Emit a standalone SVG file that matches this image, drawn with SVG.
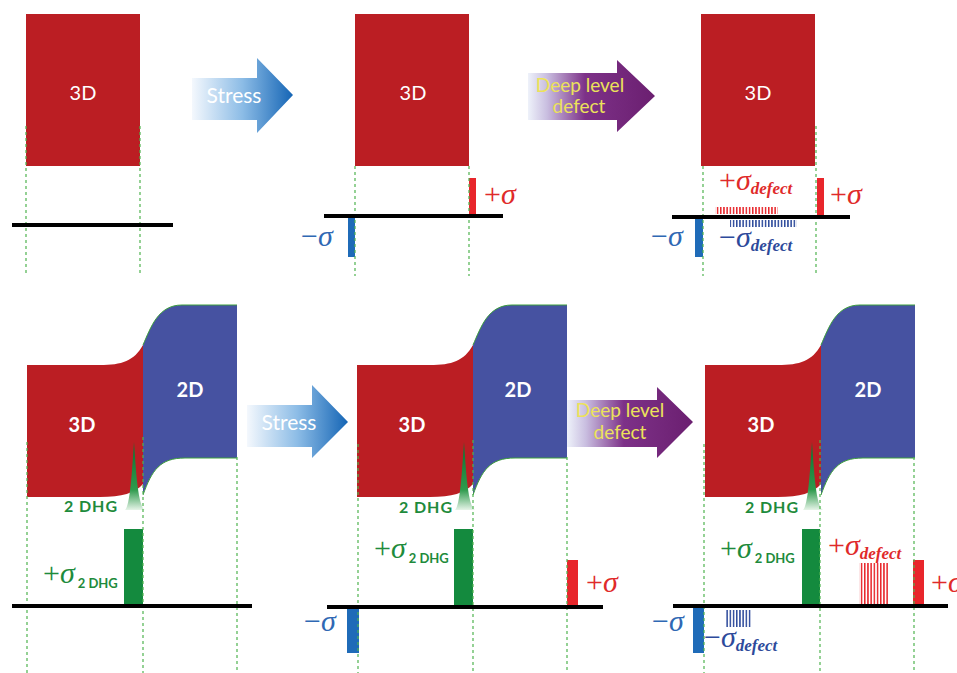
<svg xmlns="http://www.w3.org/2000/svg" xmlns:xlink="http://www.w3.org/1999/xlink" width="957" height="673" viewBox="0 0 957 673">
<style>
.sans{font-family:Lato,"Open Sans","Liberation Sans",sans-serif}
.lbl{fill:#fff;font-size:20px;text-anchor:middle}
.lblb{fill:#fff;font-size:20px;font-weight:bold;text-anchor:middle}
.dhg{fill:#1e8b3c;font-size:16px;font-weight:bold}
.dhgs{font-family:Lato,"Open Sans","Liberation Sans",sans-serif;font-size:13px;font-weight:bold;font-style:normal}
.sym{font-family:"Liberation Serif","DejaVu Serif",serif;font-size:30px}
.it{font-style:italic}
.sub{font-size:17px;font-weight:bold;font-style:italic}
.red{fill:#e02a2a}
.blue{fill:#2f68b4}
.dblue{fill:#2d4a9b}
.green{fill:#1e8b3c}
.dash{stroke:#4fb34f;stroke-width:1.2;stroke-dasharray:3 3;fill:none}
.axis{stroke:#000;stroke-width:4}
.box3d{fill:#bb1e23}
.barR{fill:#e8262b}
.barB{fill:#1f6bb8}
.barG{fill:#148a3e}
.arrowtxt{font-size:21px;fill:#fff;text-anchor:middle}
.deftxt{font-size:19px;fill:#ece25a;text-anchor:middle}
</style>
<defs>
  <linearGradient id="gStress" x1="0" y1="0" x2="1" y2="0">
    <stop offset="0" stop-color="#f4f8fd"/>
    <stop offset="0.5" stop-color="#8cbce6"/>
    <stop offset="1" stop-color="#1565b5"/>
  </linearGradient>
  <linearGradient id="gDefect" x1="0" y1="0" x2="1" y2="0">
    <stop offset="0" stop-color="#eef2fa"/>
    <stop offset="0.15" stop-color="#c9bee0"/>
    <stop offset="0.45" stop-color="#7d3188"/>
    <stop offset="1" stop-color="#6b1f70"/>
  </linearGradient>
  <linearGradient id="gPeak" x1="0" y1="0" x2="0" y2="1">
    <stop offset="0" stop-color="#0a7030"/>
    <stop offset="0.7" stop-color="#2e9a4c"/>
    <stop offset="1" stop-color="#e6f4e8"/>
  </linearGradient>
  <pattern id="hatchR" width="3.2" height="10" patternUnits="userSpaceOnUse">
    <rect width="1.5" height="10" fill="#e8262b"/>
  </pattern>
  <pattern id="hatchB" width="3.2" height="10" patternUnits="userSpaceOnUse">
    <rect width="1.5" height="10" fill="#2d4a9b"/>
  </pattern>
  <!-- 3D/2D heterostructure band with the 2DHG peak at the interface -->
  <g id="band">
    <path d="M27,365 H100 C122,365 134,361 143,345 V484 C135,493 122,497 100,497 H27 Z" fill="#bb1e23"/>
    <path d="M143,345 C151,327 158,305 182,305 H237 V458 H185 C160,458 152,470 143,495 Z" fill="#4652a1"/>
    <path d="M143,345 C151,327 158,305 182,305 H237 M237,458 H185 C160,458 152,470 143,495" fill="none" stroke="#3c9f3c" stroke-width="1"/>
    <path d="M125,510 C130,506 132,472 134,442 C136,472 138,506 145,510 Z" fill="url(#gPeak)"/>
  </g>
</defs>

<rect width="957" height="673" fill="#fff"/>

<!-- top row, panel 1 -->
<g id="top1">
  <rect class="box3d" x="26" y="14" width="114" height="152"/>
  <text class="sans lbl" x="83" y="100">3D</text>
  <path class="dash" d="M26,126 V276 M140,126 V276"/>
  <line class="axis" x1="12" y1="225" x2="173" y2="225"/>
</g>

<!-- top row, panel 2 -->
<g id="top2">
  <rect class="box3d" x="355" y="14" width="114" height="152"/>
  <text class="sans lbl" x="413" y="100">3D</text>
  <rect class="barR" x="469" y="178" width="7" height="38"/>
  <rect class="barB" x="348" y="216" width="7" height="41"/>
  <path class="dash" d="M355,166 V276 M469,166 V276"/>
  <line class="axis" x1="324" y1="216" x2="503" y2="216"/>
  <text class="sym red" x="484" y="204">+<tspan class="it">σ</tspan></text>
  <text class="sym blue" x="301" y="246">−<tspan class="it">σ</tspan></text>
</g>

<!-- top row, panel 3 -->
<g id="top3">
  <rect class="box3d" x="701" y="14" width="114" height="152"/>
  <text class="sans lbl" x="758" y="100">3D</text>
  <rect class="barR" x="817" y="178" width="7" height="39"/>
  <rect class="barB" x="695" y="217" width="8" height="40"/>
  <rect x="715" y="207" width="63" height="7" fill="url(#hatchR)"/>
  <rect x="730" y="220" width="67" height="7" fill="url(#hatchB)"/>
  <path class="dash" d="M703,166 V276 M816,126 V276"/>
  <line class="axis" x1="672" y1="217" x2="850" y2="217"/>
  <text class="sym red" x="830" y="204">+<tspan class="it">σ</tspan></text>
  <text class="sym blue" x="651" y="246">−<tspan class="it">σ</tspan></text>
  <text class="sym red" x="719" y="190">+<tspan class="it">σ</tspan><tspan class="sub" dy="4">defect</tspan></text>
  <text class="sym dblue" x="719" y="247">−<tspan class="it">σ</tspan><tspan class="sub" dy="4">defect</tspan></text>
</g>

<!-- bottom row, panel 1 -->
<g id="bottom1">
  <use xlink:href="#band"/>
  <text class="sans lblb" x="82" y="432">3D</text>
  <text class="sans lblb" x="190" y="397">2D</text>
  <text class="sans dhg" x="64" y="512" textLength="53">2 DHG</text>
  <rect class="barG" x="124" y="529" width="19" height="77"/>
  <path class="dash" d="M27,442 V673 M143,437 V673 M237,457 V673"/>
  <line class="axis" x1="12" y1="606" x2="252" y2="606"/>
  <text class="sym green" x="43" y="583">+<tspan class="it">σ</tspan><tspan class="dhgs" dx="3" dy="5" textLength="40">2 DHG</tspan></text>
</g>

<!-- bottom row, panel 2 -->
<g id="bottom2">
  <use xlink:href="#band" transform="translate(330,0)"/>
  <text class="sans lblb" x="412" y="432">3D</text>
  <text class="sans lblb" x="518" y="397">2D</text>
  <text class="sans dhg" x="399" y="513" textLength="53">2 DHG</text>
  <rect class="barG" x="454" y="529" width="19" height="77"/>
  <rect class="barR" x="567" y="560" width="11" height="47"/>
  <rect class="barB" x="347" y="607" width="12" height="46"/>
  <path class="dash" d="M358,444 V673 M473,440 V673 M567,457 V673"/>
  <line class="axis" x1="327" y1="607" x2="603" y2="607"/>
  <text class="sym green" x="374" y="558">+<tspan class="it">σ</tspan><tspan class="dhgs" dx="3" dy="5" textLength="40">2 DHG</tspan></text>
  <text class="sym red" x="586" y="592">+<tspan class="it">σ</tspan></text>
  <text class="sym blue" x="304" y="631">−<tspan class="it">σ</tspan></text>
</g>

<!-- bottom row, panel 3 -->
<g id="bottom3">
  <use xlink:href="#band" transform="translate(678,0)"/>
  <text class="sans lblb" x="761" y="432">3D</text>
  <text class="sans lblb" x="868" y="397">2D</text>
  <text class="sans dhg" x="745" y="513" textLength="53">2 DHG</text>
  <rect class="barG" x="802" y="529" width="18" height="77"/>
  <rect class="barR" x="913" y="560" width="11" height="46"/>
  <rect class="barB" x="693" y="606" width="11" height="47"/>
  <rect x="859" y="563" width="29" height="41" fill="url(#hatchR)"/>
  <rect x="726" y="610" width="26" height="17" fill="url(#hatchB)"/>
  <path class="dash" d="M704,444 V673 M820,440 V673 M914,457 V673"/>
  <line class="axis" x1="673" y1="606" x2="948" y2="606"/>
  <text class="sym green" x="720" y="558">+<tspan class="it">σ</tspan><tspan class="dhgs" dx="3" dy="5" textLength="40">2 DHG</tspan></text>
  <text class="sym red" x="828" y="555">+<tspan class="it">σ</tspan><tspan class="sub" dy="4">defect</tspan></text>
  <text class="sym red" x="931" y="592">+<tspan class="it">σ</tspan></text>
  <text class="sym blue" x="652" y="631">−<tspan class="it">σ</tspan></text>
  <text class="sym dblue" x="704" y="647">−<tspan class="it">σ</tspan><tspan class="sub" dy="4">defect</tspan></text>
</g>

<!-- process arrows between the stages -->
<g id="connectors">
  <path d="M192,78 H257 V58 L293,95 L257,133 V120 H192 Z" fill="url(#gStress)"/>
  <text class="sans arrowtxt" x="234" y="103">Stress</text>
  <path d="M528,73 H617 V60 L655,96 L617,132 V120 H528 Z" fill="url(#gDefect)"/>
  <text class="sans deftxt" x="580" y="92">Deep level</text>
  <text class="sans deftxt" x="579" y="113">defect</text>
  <path d="M247,405 H312 V385 L348,422 L312,458 V447 H247 Z" fill="url(#gStress)"/>
  <text class="sans arrowtxt" x="289" y="430">Stress</text>
  <path d="M567,400 H657 V387 L693,422 L657,458 V447 H567 Z" fill="url(#gDefect)"/>
  <text class="sans deftxt" x="620" y="417">Deep level</text>
  <text class="sans deftxt" x="620" y="439">defect</text>
</g>
</svg>
